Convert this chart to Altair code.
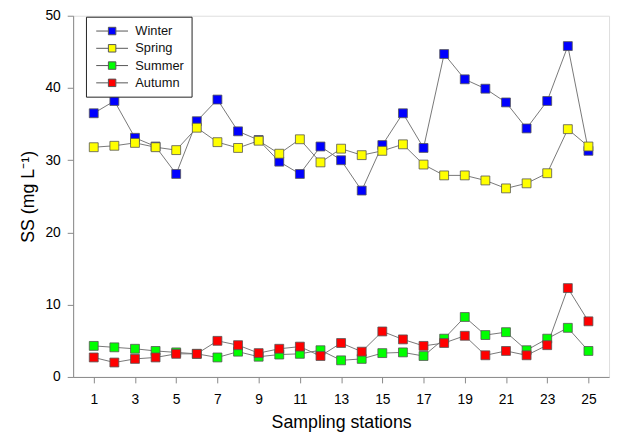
import altair as alt
import pandas as pd

stations = list(range(1, 26))
seasons = ["Winter", "Spring", "Summer", "Autumn"]
colors = ["#0000FF", "#FFFF00", "#00FF00", "#FF0000"]

winter = [36.5, 38.2, 33.1, 31.9, 28.1, 35.4, 38.4, 34.0, 32.8, 29.8, 28.1, 31.9, 30.0,
          25.8, 32.1, 36.5, 31.7, 44.7, 41.2, 39.9, 38.0, 34.4, 38.2, 45.8, 31.3]
spring = [31.8, 32.0, 32.4, 31.8, 31.4, 34.5, 32.5, 31.7, 32.7, 30.9, 32.9, 29.7, 31.6,
          30.7, 31.3, 32.2, 29.4, 27.9, 27.9, 27.2, 26.1, 26.8, 28.2, 34.3, 31.9]
summer = [4.3, 4.1, 3.9, 3.6, 3.4, 3.2, 2.7, 3.5, 2.8, 3.1, 3.2, 3.7, 2.3,
          2.5, 3.3, 3.4, 2.9, 5.3, 8.3, 5.8, 6.2, 3.7, 5.3, 6.8, 3.6]
autumn = [2.7, 2.0, 2.5, 2.7, 3.2, 3.2, 5.0, 4.4, 3.3, 3.9, 4.2, 2.9, 4.7,
          3.5, 6.3, 5.2, 4.3, 4.7, 5.7, 3.0, 3.6, 3.0, 4.4, 12.3, 7.7]

x_ticks = list(range(1, 26, 2))
y_ticks = [0, 10, 20, 30, 40, 50]

rows = []
for name, vals in zip(seasons, [winter, spring, summer, autumn]):
    for s, v in zip(stations, vals):
        rows.append({"station": s, "ss": v, "season": name})
df = pd.DataFrame(rows)
df["order"] = df["season"].map({n: i for i, n in enumerate(seasons)})

FONT = "Liberation Sans"

x_enc = alt.X(
    "station:Q",
    scale=alt.Scale(domain=[0, 26], nice=False, zero=False),
    axis=alt.Axis(values=x_ticks, title="Sampling stations", grid=False,
                  tickSize=6, labelPadding=10, titlePadding=7,
                  labelFontSize=14, titleFontSize=18, titleFontWeight="normal"),
)
y_enc = alt.Y(
    "ss:Q",
    scale=alt.Scale(domain=[0, 50], nice=False),
    axis=alt.Axis(values=y_ticks, title="SS (mg L\u207b\u00b9)", grid=False,
                  tickSize=6, labelPadding=7, titlePadding=8,
                  labelFontSize=14, titleFontSize=18, titleFontWeight="normal"),
)

lines = alt.Chart(df).mark_line(color="#777777", strokeWidth=1).encode(
    x=x_enc, y=y_enc, detail="season:N"
)

points = alt.Chart(df).mark_square(
    size=81, filled=True, opacity=1, stroke="#555555", strokeWidth=0.8
).encode(
    x=x_enc,
    y=y_enc,
    order=alt.Order("order:Q"),
    color=alt.Color(
        "season:N",
        scale=alt.Scale(domain=seasons, range=colors),
        legend=alt.Legend(
            title=None,
            orient="none",
            legendX=13,
            legendY=1,
            symbolType="M-2.3,0H-0.54M0.54,0H2.3M-0.54,-0.54H0.54V0.54H-0.54Z",
            symbolSize=196,
            symbolStrokeColor="#555555",
            symbolStrokeWidth=1,
            symbolOpacity=1,
            symbolOffset=12,
            labelOffset=16,
            labelFontSize=13,
            labelFont=FONT,
            labelColor="#111111",
            rowPadding=2.5,
            padding=7,
            strokeColor="#222222",
            fillColor="white",
        ),
    ),
)

chart = alt.layer(lines, points).properties(
    width=543,
    height=366,
    autosize=alt.AutoSizeParams(type="none"),
    padding={"left": 66, "top": 5, "right": 4, "bottom": 58},
).configure_view(
    stroke="#333333", strokeWidth=1
).configure_axis(
    domainColor="#333333", tickColor="#333333", labelColor="#111111",
    titleColor="#111111", labelFont=FONT, titleFont=FONT,
).configure(background="white")

chart.save("out.html", embed_options={"renderer": "svg", "actions": False})
